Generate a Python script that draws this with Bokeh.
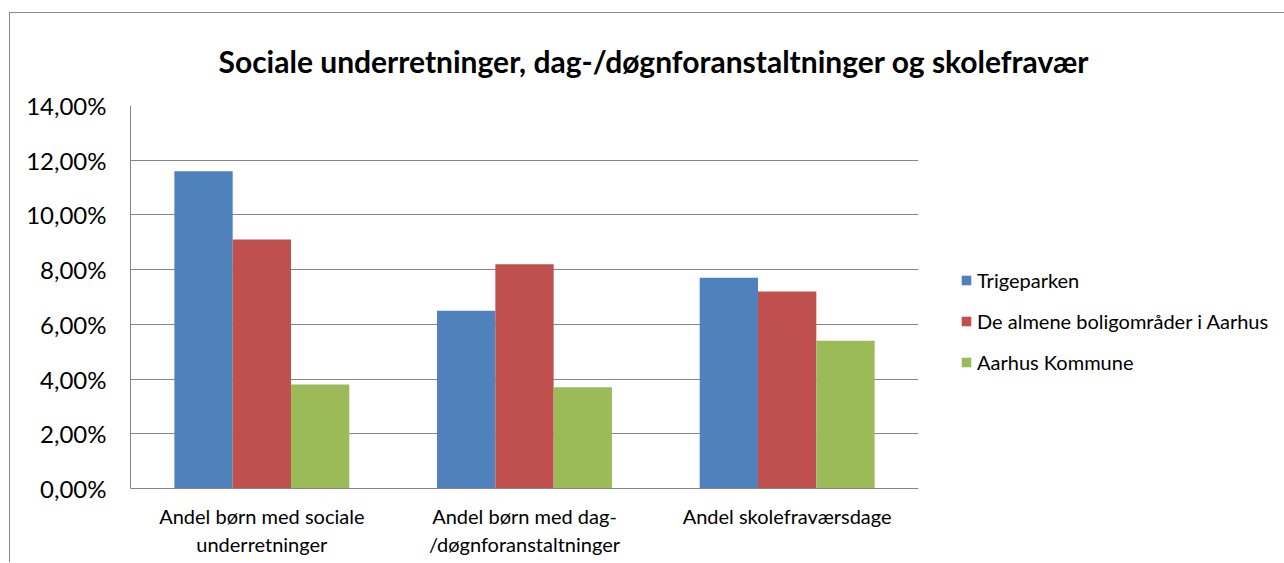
from bokeh.plotting import figure
from bokeh.models import ColumnDataSource, FactorRange, Range1d, FixedTicker, Legend, LegendItem
from bokeh.transform import dodge
from bokeh.embed import file_html
from bokeh.resources import INLINE

categories = ["Andel børn med sociale\nunderretninger",
              "Andel børn med dag-\n/døgnforanstaltninger",
              "Andel skolefraværsdage"]
series_names = ["Trigeparken", "De almene boligområder i Aarhus", "Aarhus Kommune"]
trigeparken = [11.6, 6.5, 7.7]
almene = [9.1, 8.2, 7.2]
aarhus = [3.8, 3.7, 5.4]
colors = ["#4F81BD", "#C0504D", "#9BBB59"]
y_ticks = [0, 2, 4, 6, 8, 10, 12, 14]
y_tick_labels = ["0,00%", "2,00%", "4,00%", "6,00%", "8,00%", "10,00%", "12,00%", "14,00%"]
title_text = "Sociale underretninger, dag-/døgnforanstaltninger og skolefravær"

FONT = "Lato"

src = ColumnDataSource(dict(cat=categories, t=trigeparken, a=almene, k=aarhus))

p = figure(x_range=FactorRange(*categories), y_range=Range1d(0, 14),
           frame_width=788, frame_height=383, output_backend="svg", toolbar_location=None,
           min_border_left=120, min_border_right=366, min_border_top=92, min_border_bottom=74)
p.styles = {"margin-top": "12px", "margin-left": "9px",
            "border-top": "1px solid #8a8a8a", "border-left": "1px solid #8a8a8a"}

p.title.text = title_text
p.title.text_font = FONT
p.title.text_font_style = "bold"
p.title.text_font_size = "30px"
p.title.text_color = "#000000"
p.title.align = "left"
p.title.offset = 88
p.title.standoff = 53

bw = 0.222
renderers = []
for i, (col, c) in enumerate(zip(["t", "a", "k"], colors)):
    r = p.vbar(x=dodge("cat", (i - 1) * bw, range=p.x_range), top=col, width=bw,
               source=src, fill_color=c, line_color=None)
    renderers.append(r)

p.outline_line_color = None
p.xgrid.grid_line_color = None
p.ygrid.grid_line_color = "#868686"
p.ygrid.grid_line_width = 1

p.yaxis.ticker = FixedTicker(ticks=y_ticks)
p.yaxis.major_label_overrides = {t: l for t, l in zip(y_ticks, y_tick_labels)}
p.yaxis.major_tick_line_color = None
p.yaxis.minor_tick_line_color = None
p.yaxis.axis_line_color = "#868686"
p.yaxis.major_label_text_font = FONT
p.yaxis.major_label_text_font_size = "24px"
p.yaxis.major_label_text_color = "#000000"
p.yaxis.major_label_standoff = 18

p.xaxis.major_tick_line_color = None
p.xaxis.minor_tick_line_color = None
p.xaxis.axis_line_color = "#868686"
p.xaxis.major_label_text_font = FONT
p.xaxis.major_label_text_font_size = "20px"
p.xaxis.major_label_text_color = "#000000"
p.xaxis.major_label_standoff = 9
p.xaxis.major_label_text_align = "left"

legend = Legend(items=[LegendItem(label=n, renderers=[r]) for n, r in zip(series_names, renderers)],
                location=(42, 114), orientation="vertical")
legend.border_line_color = None
legend.background_fill_alpha = 0
legend.padding = 0
legend.margin = 0
legend.glyph_width = 12
legend.glyph_height = 12
legend.label_height = 20
legend.spacing = 17
legend.label_standoff = 5
legend.label_text_font = FONT
legend.label_text_font_size = "20px"
legend.label_text_color = "#000000"
p.add_layout(legend, "right")

open("out.html", "w").write(file_html(p, INLINE))
